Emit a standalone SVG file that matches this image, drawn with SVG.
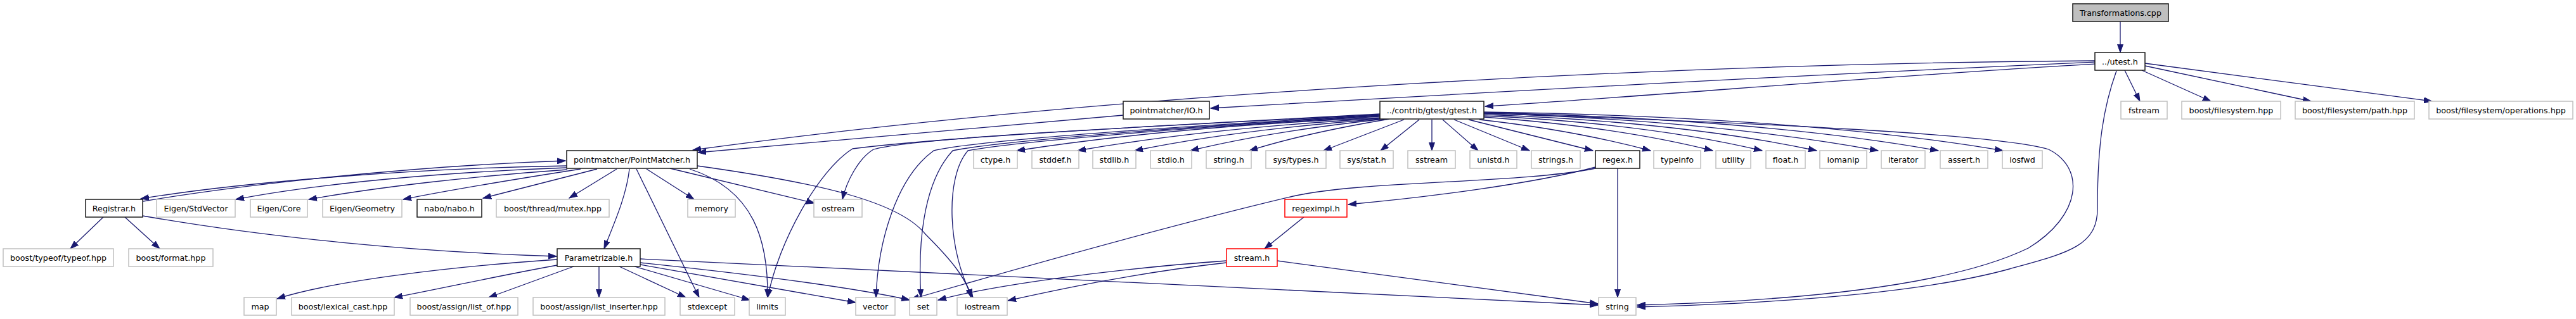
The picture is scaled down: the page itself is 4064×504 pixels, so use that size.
<svg xmlns="http://www.w3.org/2000/svg" width="4064" height="504" viewBox="0 0 4064 504">
<style>
text{font-family:"DejaVu Sans","Liberation Sans",Arial,sans-serif;font-size:12.7px;fill:#000;text-anchor:middle}
rect{fill:#fff;stroke-width:1.5}
.b rect{stroke:#1a1a1a}
.g rect{stroke:#c0c0c0}
.r rect{stroke:#ff0000}
.t rect{fill:#bfbfbf;stroke:#1a1a1a}
#edges path{fill:none;stroke:#191970;stroke-width:1.3;marker-end:url(#a)}
</style>
<defs>
<marker id="a" markerUnits="userSpaceOnUse" markerWidth="14" markerHeight="10" refX="13" refY="5" orient="auto" viewBox="0 0 14 10"><path d="M0,0.5 L13,5 L0,9.5 z" fill="#191970" stroke="#191970" stroke-width="1"/></marker>
</defs>
<rect x="0" y="0" width="4064" height="504" style="fill:#fff;stroke:none"/>
<g id="edges">
<path d="M3345,34 L3345,83"/>
<path d="M3352,111 L3376,160"/>
<path d="M3379,111 L3488,160"/>
<path d="M3384,104 L3646,160"/>
<path d="M3384,100 L3837,160"/>
<path d="M3305,101 C3000,118 2600,152 2343,168"/>
<path d="M3305,98 C2700,125 2100,160 1910,171"/>
<path d="M3305,96 C2700,100 1800,140 1093,237"/>
<path d="M1772,182 C1500,205 1300,222 1101,241"/>
<path d="M2177,186 Q1850,200 1604,238"/>
<path d="M2177,187 Q1900,203 1700,238"/>
<path d="M2179,188 Q1950,205 1790,238"/>
<path d="M2184,188 Q2000,208 1878,238"/>
<path d="M2192,188 Q2060,210 1971,238"/>
<path d="M2215,189 L2088,238"/>
<path d="M2239,189 L2178,238"/>
<path d="M2259,189 L2259,238"/>
<path d="M2276,189 L2332,238"/>
<path d="M2294,189 L2413,238"/>
<path d="M2317,189 L2513,238"/>
<path d="M2334,189 Q2480,205 2604,238"/>
<path d="M2341,185 Q2550,200 2702,238"/>
<path d="M2341,183 Q2600,195 2780,238"/>
<path d="M2341,181 Q2650,192 2866,238"/>
<path d="M2341,179 Q2700,190 2963,238"/>
<path d="M2341,178 Q2780,188 3058,238"/>
<path d="M2341,177 Q2850,185 3160,238"/>
<path d="M2177,180 C1900,195 1500,215 1345,235 C1290,270 1230,380 1211,470"/>
<path d="M2177,181 C1900,196 1450,215 1378,236 C1355,250 1336,285 1329,315"/>
<path d="M2177,182 C1900,197 1550,220 1473,238 C1415,280 1385,380 1382,470"/>
<path d="M2177,183 C1900,198 1580,222 1503,238 C1455,290 1448,390 1453,470"/>
<path d="M2177,184 C1900,199 1600,224 1527,238 C1490,280 1495,400 1535,470"/>
<path d="M894,262 C650,266 380,288 222,314"/>
<path d="M226,318 C380,292 650,262 892,254"/>
<path d="M894,265 C700,272 500,290 372,315"/>
<path d="M895,268 C750,278 600,295 487,315"/>
<path d="M916,267 C820,282 720,298 636,315"/>
<path d="M942,267 L762,313"/>
<path d="M973,267 L898,313"/>
<path d="M993,267 C988,310 970,350 953,393"/>
<path d="M1004,267 L1103,470"/>
<path d="M1020,267 L1095,315"/>
<path d="M1057,266 L1285,321"/>
<path d="M1088,267 C1190,300 1212,380 1211,470"/>
<path d="M1100,262 C1300,290 1420,320 1460,370 C1500,410 1525,440 1532,470"/>
<path d="M163,343 L111,393"/>
<path d="M197,343 L252,393"/>
<path d="M225,341 C420,375 650,398 878,405"/>
<path d="M879,410 C700,422 520,445 437,472"/>
<path d="M879,419 C790,435 700,455 622,470"/>
<path d="M905,421 L771,470"/>
<path d="M945,421 L945,470"/>
<path d="M977,421 L1082,470"/>
<path d="M1001,421 L1183,474"/>
<path d="M1010,418 L1350,478"/>
<path d="M1010,415 C1200,435 1350,455 1435,474"/>
<path d="M1010,409 C1500,432 2100,462 2521,482"/>
<path d="M2552,266 L2552,470"/>
<path d="M2517,264 C2420,290 2250,312 2127,323"/>
<path d="M2517,266 C2400,290 2150,285 2040,310 C1850,355 1620,420 1437,473"/>
<path d="M2057,343 L1995,393"/>
<path d="M1935,412 C1750,425 1560,452 1480,474"/>
<path d="M1935,415 C1800,430 1680,455 1590,475"/>
<path d="M2015,412 L2521,480"/>
<path d="M2341,179 C2800,195 3150,212 3232,236 C3290,265 3285,340 3200,392 C3080,450 2850,475 2583,482"/>
<path d="M3339,112 C3318,170 3309,230 3309,330 C3309,390 3260,400 3170,425 C3050,458 2850,478 2583,485"/>
</g>
<g id="n_transformations" class="t"><rect x="3270" y="6" width="151" height="28"/><text x="3345.5" y="24.5">Transformations.cpp</text></g>
<g id="n_utest" class="b"><rect x="3305" y="83" width="79" height="28"/><text x="3344.5" y="101.5">../utest.h</text></g>
<g id="n_io" class="b"><rect x="1772" y="160" width="136" height="28"/><text x="1840" y="178.5">pointmatcher/IO.h</text></g>
<g id="n_gtest" class="b"><rect x="2177" y="160" width="164" height="28"/><text x="2259" y="178.5">../contrib/gtest/gtest.h</text></g>
<g id="n_fstream" class="g"><rect x="3346" y="160" width="73" height="28"/><text x="3382.5" y="178.5">fstream</text></g>
<g id="n_bfs" class="g"><rect x="3442" y="160" width="156" height="28"/><text x="3520" y="178.5">boost/filesystem.hpp</text></g>
<g id="n_bfspath" class="g"><rect x="3621" y="160" width="188" height="28"/><text x="3715" y="178.5">boost/filesystem/path.hpp</text></g>
<g id="n_bfsops" class="g"><rect x="3832" y="160" width="227" height="28"/><text x="3945.5" y="178.5">boost/filesystem/operations.hpp</text></g>
<g id="n_pointmatcher" class="b"><rect x="894" y="238" width="206" height="28"/><text x="997" y="256.5">pointmatcher/PointMatcher.h</text></g>
<g id="n_ctype" class="g"><rect x="1536" y="238" width="69" height="28"/><text x="1570.5" y="256.5">ctype.h</text></g>
<g id="n_stddef" class="g"><rect x="1628" y="238" width="74" height="28"/><text x="1665" y="256.5">stddef.h</text></g>
<g id="n_stdlib" class="g"><rect x="1724" y="238" width="68" height="28"/><text x="1758" y="256.5">stdlib.h</text></g>
<g id="n_stdio" class="g"><rect x="1815" y="238" width="65" height="28"/><text x="1847.5" y="256.5">stdio.h</text></g>
<g id="n_stringh" class="g"><rect x="1903" y="238" width="71" height="28"/><text x="1938.5" y="256.5">string.h</text></g>
<g id="n_systypes" class="g"><rect x="1997" y="238" width="95" height="28"/><text x="2044.5" y="256.5">sys/types.h</text></g>
<g id="n_sysstat" class="g"><rect x="2114" y="238" width="84" height="28"/><text x="2156" y="256.5">sys/stat.h</text></g>
<g id="n_sstream" class="g"><rect x="2221" y="238" width="75" height="28"/><text x="2258.5" y="256.5">sstream</text></g>
<g id="n_unistd" class="g"><rect x="2319" y="238" width="74" height="28"/><text x="2356" y="256.5">unistd.h</text></g>
<g id="n_strings" class="g"><rect x="2416" y="238" width="77" height="28"/><text x="2454.5" y="256.5">strings.h</text></g>
<g id="n_regex" class="b"><rect x="2517" y="238" width="70" height="28"/><text x="2552" y="256.5">regex.h</text></g>
<g id="n_typeinfo" class="g"><rect x="2609" y="238" width="74" height="28"/><text x="2646" y="256.5">typeinfo</text></g>
<g id="n_utility" class="g"><rect x="2707" y="238" width="55" height="28"/><text x="2734.5" y="256.5">utility</text></g>
<g id="n_float" class="g"><rect x="2786" y="238" width="62" height="28"/><text x="2817" y="256.5">float.h</text></g>
<g id="n_iomanip" class="g"><rect x="2871" y="238" width="74" height="28"/><text x="2908" y="256.5">iomanip</text></g>
<g id="n_iterator" class="g"><rect x="2968" y="238" width="69" height="28"/><text x="3002.5" y="256.5">iterator</text></g>
<g id="n_assert" class="g"><rect x="3061" y="238" width="75" height="28"/><text x="3098.5" y="256.5">assert.h</text></g>
<g id="n_iosfwd" class="g"><rect x="3159" y="238" width="63" height="28"/><text x="3190.5" y="256.5">iosfwd</text></g>
<g id="n_registrar" class="b"><rect x="135" y="315" width="90" height="28"/><text x="180" y="333.5">Registrar.h</text></g>
<g id="n_stdvector" class="g"><rect x="247" y="315" width="124" height="28"/><text x="309" y="333.5">Eigen/StdVector</text></g>
<g id="n_core" class="g"><rect x="395" y="315" width="90" height="28"/><text x="440" y="333.5">Eigen/Core</text></g>
<g id="n_geometry" class="g"><rect x="509" y="315" width="125" height="28"/><text x="571.5" y="333.5">Eigen/Geometry</text></g>
<g id="n_nabo" class="b"><rect x="658" y="315" width="102" height="28"/><text x="709" y="333.5">nabo/nabo.h</text></g>
<g id="n_mutex" class="g"><rect x="783" y="315" width="178" height="28"/><text x="872" y="333.5">boost/thread/mutex.hpp</text></g>
<g id="n_memory" class="g"><rect x="1085" y="315" width="75" height="28"/><text x="1122.5" y="333.5">memory</text></g>
<g id="n_ostream" class="g"><rect x="1284" y="315" width="76" height="28"/><text x="1322" y="333.5">ostream</text></g>
<g id="n_regeximpl" class="r"><rect x="2027" y="315" width="98" height="28"/><text x="2076" y="333.5">regeximpl.h</text></g>
<g id="n_typeof" class="g"><rect x="5" y="393" width="174" height="28"/><text x="92" y="411.5">boost/typeof/typeof.hpp</text></g>
<g id="n_format" class="g"><rect x="203" y="393" width="133" height="28"/><text x="269.5" y="411.5">boost/format.hpp</text></g>
<g id="n_parametrizable" class="b"><rect x="879" y="393" width="131" height="28"/><text x="944.5" y="411.5">Parametrizable.h</text></g>
<g id="n_stream" class="r"><rect x="1935" y="393" width="80" height="28"/><text x="1975" y="411.5">stream.h</text></g>
<g id="n_map" class="g"><rect x="385" y="470" width="51" height="28"/><text x="410.5" y="488.5">map</text></g>
<g id="n_lexical" class="g"><rect x="460" y="470" width="162" height="28"/><text x="541" y="488.5">boost/lexical_cast.hpp</text></g>
<g id="n_listof" class="g"><rect x="647" y="470" width="170" height="28"/><text x="732" y="488.5">boost/assign/list_of.hpp</text></g>
<g id="n_listinserter" class="g"><rect x="841" y="470" width="208" height="28"/><text x="945" y="488.5">boost/assign/list_inserter.hpp</text></g>
<g id="n_stdexcept" class="g"><rect x="1073" y="470" width="86" height="28"/><text x="1116" y="488.5">stdexcept</text></g>
<g id="n_limits" class="g"><rect x="1182" y="470" width="57" height="28"/><text x="1210.5" y="488.5">limits</text></g>
<g id="n_vector" class="g"><rect x="1350" y="470" width="62" height="28"/><text x="1381" y="488.5">vector</text></g>
<g id="n_set" class="g"><rect x="1435" y="470" width="43" height="28"/><text x="1456.5" y="488.5">set</text></g>
<g id="n_iostream" class="g"><rect x="1510" y="470" width="79" height="28"/><text x="1549.5" y="488.5">iostream</text></g>
<g id="n_string" class="g"><rect x="2522" y="470" width="59" height="28"/><text x="2551.5" y="488.5">string</text></g>
</svg>
